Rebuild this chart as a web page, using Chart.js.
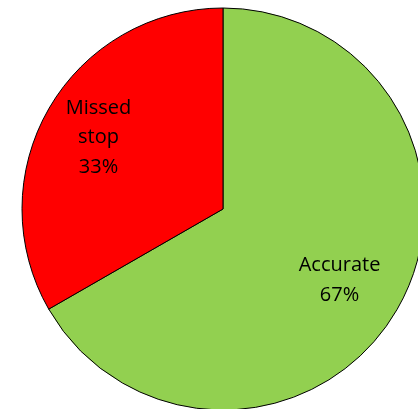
<!DOCTYPE html>
<html lang="en">
  <head>
    <meta charset="UTF-8" />
    <title>Stop detection</title>
    <script src="https://cdn.jsdelivr.net/npm/chart.js"></script>
    <style>
      html, body { margin: 0; padding: 0; width: 418px; height: 409px; overflow: hidden; background: #fff; }
      #wrap { position: absolute; left: -7.5px; top: -21px; width: 460px; height: 460px; }
    </style>
  </head>
  <body>
    <div id="wrap"><canvas id="pieChart"></canvas></div>
    <script>
      const labels = [["Accurate"], ["Missed", "stop"]];
      const shares = [66.7, 33.3];
      const colors = ["#92D050", "#FF0000"];
      // small nudges so the text sits where the office chart put it
      const nudgeX = [-7, -1];

      // labels inside each slice, like the office chart
      const sliceLabels = {
        id: "sliceLabels",
        afterDatasetsDraw(chart) {
          const ctx = chart.ctx;
          const meta = chart.getDatasetMeta(0);
          const total = shares.reduce((a, b) => a + b, 0);
          ctx.save();
          ctx.font = "20px 'Open Sans', sans-serif";
          ctx.fillStyle = "#000";
          ctx.textAlign = "center";
          ctx.textBaseline = "middle";
          meta.data.forEach((arc, i) => {
            const mid = (arc.startAngle + arc.endAngle) / 2;
            const r = arc.outerRadius * 0.71;
            const x = arc.x + Math.cos(mid) * r + nudgeX[i];
            const y = arc.y + Math.sin(mid) * r;
            const lines = labels[i].concat([Math.round((shares[i] / total) * 100) + "%"]);
            const lh = 29.5;
            lines.forEach((t, k) => {
              ctx.fillText(t, x, y + (k - (lines.length - 1) / 2) * lh);
            });
          });
          ctx.restore();
        },
      };

      new Chart(document.getElementById("pieChart"), {
        type: "pie",
        data: {
          labels: labels.map((l) => l.join(" ")),
          datasets: [
            {
              data: shares,
              backgroundColor: colors,
              borderColor: "#000",
              borderWidth: 1,
            },
          ],
        },
        options: {
          responsive: true,
          maintainAspectRatio: false,
          animation: false,
          radius: 201,
          plugins: {
            legend: { display: false },
            tooltip: { enabled: false },
          },
        },
        plugins: [sliceLabels],
      });
    </script>
  </body>
</html>
